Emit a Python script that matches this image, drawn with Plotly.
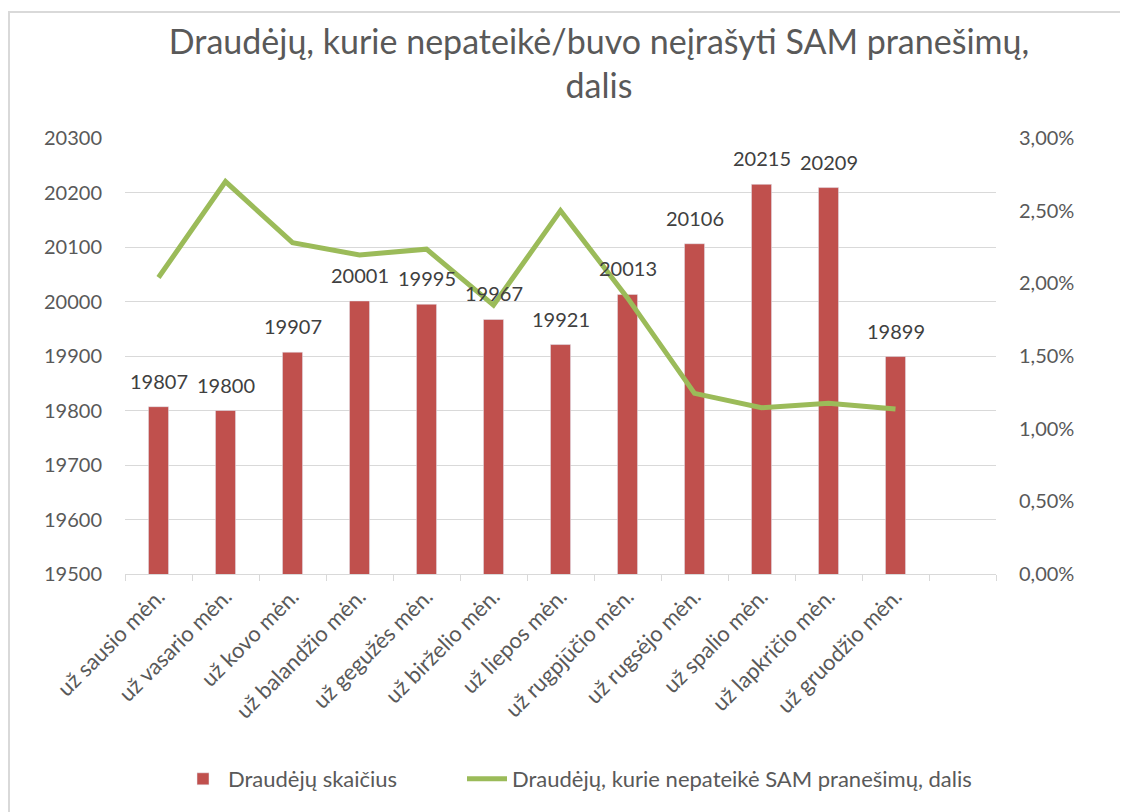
import plotly.graph_objects as go

categories = ["už sausio mėn.", "už vasario mėn.", "už kovo mėn.", "už balandžio mėn.",
              "už gegužės mėn.", "už birželio mėn.", "už liepos mėn.", "už rugpjūčio mėn.",
              "už rugsėjo mėn.", "už spalio mėn.", "už lapkričio mėn.", "už gruodžio mėn."]
insured_count = [19807, 19800, 19907, 20001, 19995, 19967, 19921, 20013, 20106, 20215, 20209, 19899]
share_missing = [0.0204, 0.0270, 0.0228, 0.02195, 0.02235, 0.0185, 0.0250, 0.0190,
                 0.01243, 0.01144, 0.01174, 0.01135]
bar_name = "Draudėjų skaičius"
line_name = "Draudėjų, kurie nepateikė SAM pranešimų, dalis"
title_text = "Draudėjų, kurie nepateikė/buvo neįrašyti SAM pranešimų,<br>dalis"

FONT = "Lato"
W, H = 1120, 804          # page body adds an 8px offset
L, T, PW, PH = 117, 130, 871, 436
xs = list(range(len(categories)))
n_slots = len(categories) + 1

fig = go.Figure()
fig.add_trace(go.Bar(x=xs, y=insured_count, name=bar_name, marker_color="#C0504D",
                     width=0.3, yaxis="y", legend="legend"))
fig.add_trace(go.Scatter(x=xs, y=share_missing, name=line_name, mode="lines",
                         line=dict(color="#9BBB59", width=5), yaxis="y2", legend="legend2"))

for x, v in zip(xs, insured_count):
    fig.add_annotation(x=x, y=v, xref="x", yref="y", text=str(v), showarrow=False,
                       yanchor="bottom", yshift=12,
                       font=dict(family=FONT, size=20, color="#404040"))

# chart border
fig.add_shape(type="rect", xref="paper", yref="paper",
              x0=(1 - L) / PW, x1=(W + 20 - L) / PW,
              y0=-(H + 20 - T - PH) / PH, y1=1 + (T - 4) / PH,
              line=dict(color="#D9D9D9", width=2), fillcolor="rgba(0,0,0,0)", layer="below")

legend_common = dict(orientation="h", xref="container", yref="container",
                     xanchor="left", y=1 - 771 / H, yanchor="middle",
                     font=dict(family=FONT, size=22, color="#595959"), itemwidth=40)

fig.update_layout(
    width=W, height=H,
    margin=dict(l=L, r=W - L - PW, t=T, b=H - T - PH),
    paper_bgcolor="white", plot_bgcolor="white",
    separators=",.",
    font=dict(family=FONT, color="#595959"),
    title=dict(text=title_text, x=591 / W, xanchor="center", xref="container",
               y=1 - 46 / H, yanchor="middle", yref="container",
               font=dict(family=FONT, size=34, color="#595959")),
    xaxis=dict(range=[-0.5, n_slots - 0.5], tickvals=xs, ticktext=categories,
               tickangle=-45, ticks="", showgrid=False, zeroline=False,
               showline=True, linecolor="#D9D9D9", linewidth=1,
               tickfont=dict(family=FONT, size=22, color="#595959"),
               minor=dict(tickvals=[i - 0.5 for i in range(n_slots + 1)], ticks="outside",
                          ticklen=6, tickcolor="#D9D9D9", showgrid=False)),
    yaxis=dict(range=[19500, 20300], dtick=100, tickformat="d", showgrid=True,
               gridcolor="#D9D9D9", gridwidth=1, zeroline=False, showline=False,
               ticks="", ticklabelstandoff=22,
               tickfont=dict(family=FONT, size=20, color="#595959")),
    yaxis2=dict(range=[0, 0.03], dtick=0.005, tickformat=".2%", overlaying="y",
                side="right", showgrid=False, zeroline=False, showline=False,
                ticks="", ticklabelstandoff=22,
                tickfont=dict(family=FONT, size=20, color="#595959")),
    legend=dict(legend_common, x=170 / W),
    legend2=dict(legend_common, x=454 / W),
    showlegend=True,
)

fig.write_html("out.html")
